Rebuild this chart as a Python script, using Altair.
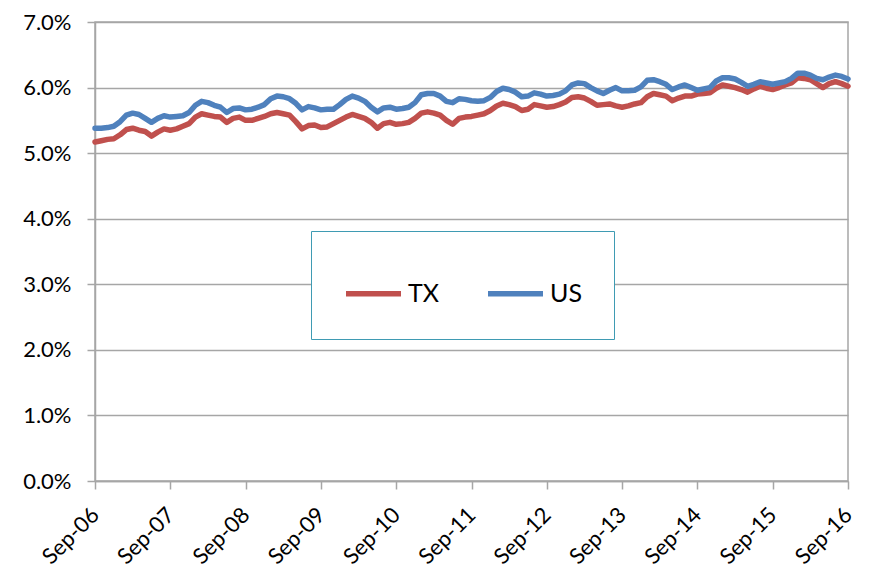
import altair as alt
import pandas as pd

tick_labels = ["Sep-06", "Sep-07", "Sep-08", "Sep-09", "Sep-10", "Sep-11",
               "Sep-12", "Sep-13", "Sep-14", "Sep-15", "Sep-16"]
series_names = ["TX", "US"]
series_colors = ["#C0504D", "#4F81BD"]
y_ticks = [0.0, 0.01, 0.02, 0.03, 0.04, 0.05, 0.06, 0.07]

# monthly values (percent), Sep-06 .. Sep-16
tx = [5.17, 5.19, 5.21, 5.22, 5.28, 5.36, 5.38, 5.35, 5.33, 5.26, 5.32, 5.37,
      5.35, 5.37, 5.41, 5.45, 5.55, 5.60, 5.58, 5.56, 5.55, 5.47, 5.53, 5.55,
      5.50, 5.50, 5.53, 5.56, 5.60, 5.62, 5.60, 5.58, 5.48, 5.37, 5.42, 5.43,
      5.39, 5.40, 5.45, 5.50, 5.55, 5.59, 5.56, 5.53, 5.47, 5.38, 5.45, 5.47,
      5.44, 5.45, 5.47, 5.53, 5.61, 5.63, 5.61, 5.58, 5.50, 5.44, 5.53, 5.55,
      5.56, 5.58, 5.60, 5.65, 5.72, 5.76, 5.74, 5.71, 5.65, 5.67, 5.74, 5.72,
      5.70, 5.71, 5.74, 5.78, 5.85, 5.86, 5.84, 5.79, 5.73, 5.74, 5.75, 5.72,
      5.70, 5.72, 5.75, 5.77, 5.86, 5.91, 5.89, 5.87, 5.80, 5.84, 5.87, 5.87,
      5.90, 5.91, 5.92, 5.99, 6.04, 6.02, 6.00, 5.97, 5.93, 5.98, 6.02, 5.99,
      5.97, 6.00, 6.04, 6.07, 6.15, 6.14, 6.12, 6.06, 6.00, 6.06, 6.09, 6.06,
      6.02]
us = [5.38, 5.38, 5.39, 5.41, 5.48, 5.58, 5.61, 5.59, 5.53, 5.47, 5.53, 5.57,
      5.55, 5.56, 5.57, 5.62, 5.73, 5.79, 5.77, 5.73, 5.70, 5.62, 5.68, 5.69,
      5.66, 5.67, 5.70, 5.74, 5.83, 5.87, 5.86, 5.83, 5.76, 5.66, 5.71, 5.69,
      5.66, 5.67, 5.67, 5.74, 5.82, 5.87, 5.84, 5.79, 5.70, 5.63, 5.69, 5.70,
      5.67, 5.68, 5.70, 5.77, 5.89, 5.91, 5.91, 5.87, 5.79, 5.77, 5.83, 5.82,
      5.80, 5.79, 5.80, 5.85, 5.94, 5.99, 5.97, 5.93, 5.86, 5.87, 5.92, 5.90,
      5.87, 5.88, 5.90, 5.95, 6.04, 6.07, 6.06, 6.00, 5.95, 5.91, 5.96, 6.00,
      5.95, 5.95, 5.96, 6.01, 6.11, 6.12, 6.09, 6.05, 5.97, 6.01, 6.04, 6.00,
      5.96, 5.98, 6.00, 6.10, 6.15, 6.15, 6.13, 6.08, 6.02, 6.05, 6.09, 6.07,
      6.05, 6.07, 6.09, 6.14, 6.22, 6.22, 6.19, 6.14, 6.12, 6.16, 6.19, 6.17,
      6.13]

rows = []
for name, vals in zip(series_names, [tx, us]):
    for i, v in enumerate(vals):
        rows.append({"month": i, "series": name, "value": v / 100.0})
df = pd.DataFrame(rows)

label_expr = "[" + ",".join("'%s'" % t for t in tick_labels) + "][round(datum.value / 12)]"

FONT = "Lato"
GRAY = "#a6a6a6"

chart = alt.Chart(df).mark_line(
    strokeWidth=5.5, strokeJoin="round", strokeCap="round"
).encode(
    x=alt.X("month:Q",
            scale=alt.Scale(domain=[0, 120], nice=False, zero=False),
            axis=alt.Axis(values=list(range(0, 121, 12)), labelExpr=label_expr,
                          labelAngle=-45, labelAlign="right", labelBaseline="middle",
                          labelPadding=22, grid=False, title=None,
                          tickSize=8, tickColor=GRAY, tickWidth=1.5,
                          domainColor=GRAY, domainWidth=1.5,
                          labelFont=FONT, labelFontSize=22, labelColor="#000000")),
    y=alt.Y("value:Q",
            scale=alt.Scale(domain=[0, 0.07], nice=False),
            axis=alt.Axis(values=y_ticks, format=".1%", title=None,
                          grid=True, gridColor=GRAY, gridWidth=1.5,
                          tickSize=8, tickColor=GRAY, tickWidth=1.5,
                          domainColor=GRAY, domainWidth=1.5, labelPadding=16,
                          labelFont=FONT, labelFontSize=22, labelColor="#000000")),
    color=alt.Color("series:N",
                    scale=alt.Scale(domain=series_names, range=series_colors),
                    legend=alt.Legend(orient="none", legendX=216, legendY=209,
                                      direction="horizontal", title=None,
                                      padding=32, strokeColor="#3f9bb3",
                                      fillColor="#ffffff",
                                      symbolType="stroke", symbolSize=3025,
                                      symbolStrokeWidth=5.5, columnPadding=38,
                                      labelOffset=4, labelFont=FONT,
                                      labelFontSize=25, labelColor="#000000")),
).properties(
    width=753, height=459,
    autosize=alt.AutoSizeParams(type="none"),
    padding={"left": 87, "top": 14, "right": 15, "bottom": 91},
    background="#ffffff",
).configure_view(
    stroke=GRAY, strokeWidth=1.5
)

chart.save("out.html", embed_options={"renderer": "svg", "actions": False})
